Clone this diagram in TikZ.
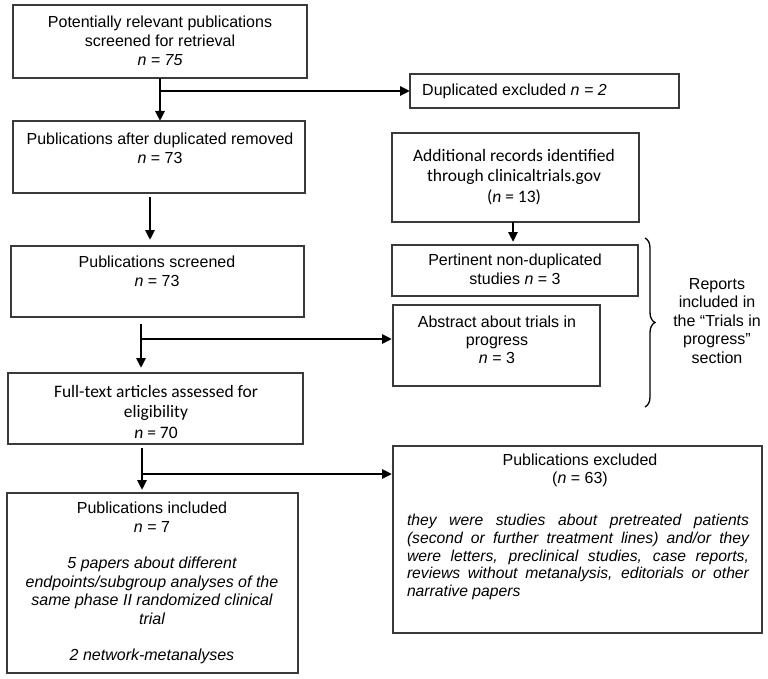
\documentclass[tikz,border=0pt]{standalone}
\usepackage{fontspec}
\setmainfont{Liberation Sans}
\newfontfamily\calib{Carlito}
\usetikzlibrary{arrows.meta,decorations.pathreplacing}
\definecolor{boxc}{HTML}{3A3A3A}
\begin{document}
\begin{tikzpicture}[x=1pt,y=-1pt,
  box/.style={draw=boxc, line width=1.3pt, inner sep=0pt, outer sep=0pt, rectangle},
  txt/.style={inner sep=0pt, align=center, font=\fontsize{16}{19}\selectfont},
  ctxt/.style={inner sep=0pt, align=center, font=\calib\fontsize{17.5}{20.5}\selectfont},
  arr/.style={line width=2.6pt, -{Triangle[length=10pt,width=9pt]}},
  ln/.style={line width=2.6pt}]
\useasboundingbox (0,0) rectangle (768,679);
% boxes
\node[box, minimum width=294, minimum height=73] (b1) at (160,41.5) {};
\node[box, minimum width=269, minimum height=34] (dup) at (544.5,91) {};
\node[box, minimum width=292, minimum height=72] (b2) at (159,157) {};
\node[box, minimum width=293, minimum height=71] (b3) at (157.5,281.5) {};
\node[box, minimum width=295, minimum height=71] (b4) at (155.5,408.5) {};
\node[box, minimum width=291, minimum height=180] (b5) at (152.5,583) {};
\node[box, minimum width=247, minimum height=89] (add) at (515.5,177.5) {};
\node[box, minimum width=246, minimum height=51] (pert) at (515,270.5) {};
\node[box, minimum width=207, minimum height=81] (abs) at (496.5,345.5) {};
\node[box, minimum width=369, minimum height=187] (exc) at (577.5,539.5) {};
% texts
\node[txt] (t1) at (160,41) {Potentially relevant publications\\screened for retrieval\\\itshape n = 75};
\node[txt, anchor=west] (tdup) at (422,91) {Duplicated excluded {\itshape n = 2}};
\node[txt] (t2) at (160,148) {Publications after duplicated removed\\{\itshape n} = 73};
\node[txt] (t3) at (157,271) {Publications screened\\{\itshape n} = 73};
\node[ctxt] (t4) at (156,411.5) {Full-text articles assessed for\\eligibility\\{\itshape n} = 70};
\node[txt, font=\fontsize{16}{18.5}\selectfont] (t5) at (152,583) {Publications included\\{\itshape n} = 7\\[18pt]
  \itshape 5 papers about different\\\itshape endpoints/subgroup analyses of the\\\itshape same phase II randomized clinical\\\itshape trial\\[18pt]
  \itshape 2 network-metanalyses};
\node[ctxt] (tadd) at (514,177) {Additional records identified\\through clinicaltrials.gov\\({\itshape n} = 13)};
\node[txt] (tpert) at (515,269) {Pertinent non-duplicated\\studies {\itshape n} = 3};
\node[txt, font=\fontsize{16}{18}\selectfont] (tabs) at (497,340) {Abstract about trials in\\progress\\{\itshape n} = 3};
\node[txt, font=\fontsize{16}{17.5}\selectfont] (texh) at (580,470.5) {Publications excluded\\({\itshape n} = 63)};
\node[txt, align=left, font=\fontsize{15.7}{17.6}\selectfont\itshape] (texp) at (578,557) {%
  \makebox[342pt][s]{they were studies about pretreated patients}\\
  \makebox[342pt][s]{(second or further treatment lines) and/or they}\\
  \makebox[342pt][s]{were letters, preclinical studies, case reports,}\\
  \makebox[342pt][s]{reviews without metanalysis, editorials or other}\\
  \makebox[342pt][l]{narrative papers}};
\node[txt, font=\fontsize{16}{18.5}\selectfont] (trep) at (717,321) {Reports\\included in\\the “Trials in\\progress”\\section};
% connectors
\coordinate (j1) at (160,91);
\coordinate (c2) at (150,200);
\coordinate (j3) at (141,339);
\coordinate (j4) at (142,474);
\coordinate (c5) at (513,230);
\draw[arr] (b1.south) -- (b1.south |- b2.north);
\draw[arr] (j1) -- (dup.west);
\draw[arr, shorten <=4pt, shorten >=6pt] (b2.south -| c2) -- (b3.north -| c2);
\draw[arr, shorten <=7pt, shorten >=5pt] (b3.south -| j3) -- (b4.north -| j3);
\draw[arr, shorten >=1pt] (j3) -- (j3 -| abs.west);
\draw[arr, shorten <=4pt, shorten >=3pt] (b4.south -| j4) -- (b5.north -| j4);
\draw[arr, shorten >=1pt] (j4) -- (j4 -| exc.west);
\draw[arr, shorten >=3pt] (add.south -| c5) -- (pert.north -| c5);
% brace
\coordinate (br1) at (645,238);
\coordinate (br2) at (645,407);
\draw[line width=1.3pt, decorate, decoration={brace, amplitude=10pt}] (br1) -- (br2);
\end{tikzpicture}
\end{document}
